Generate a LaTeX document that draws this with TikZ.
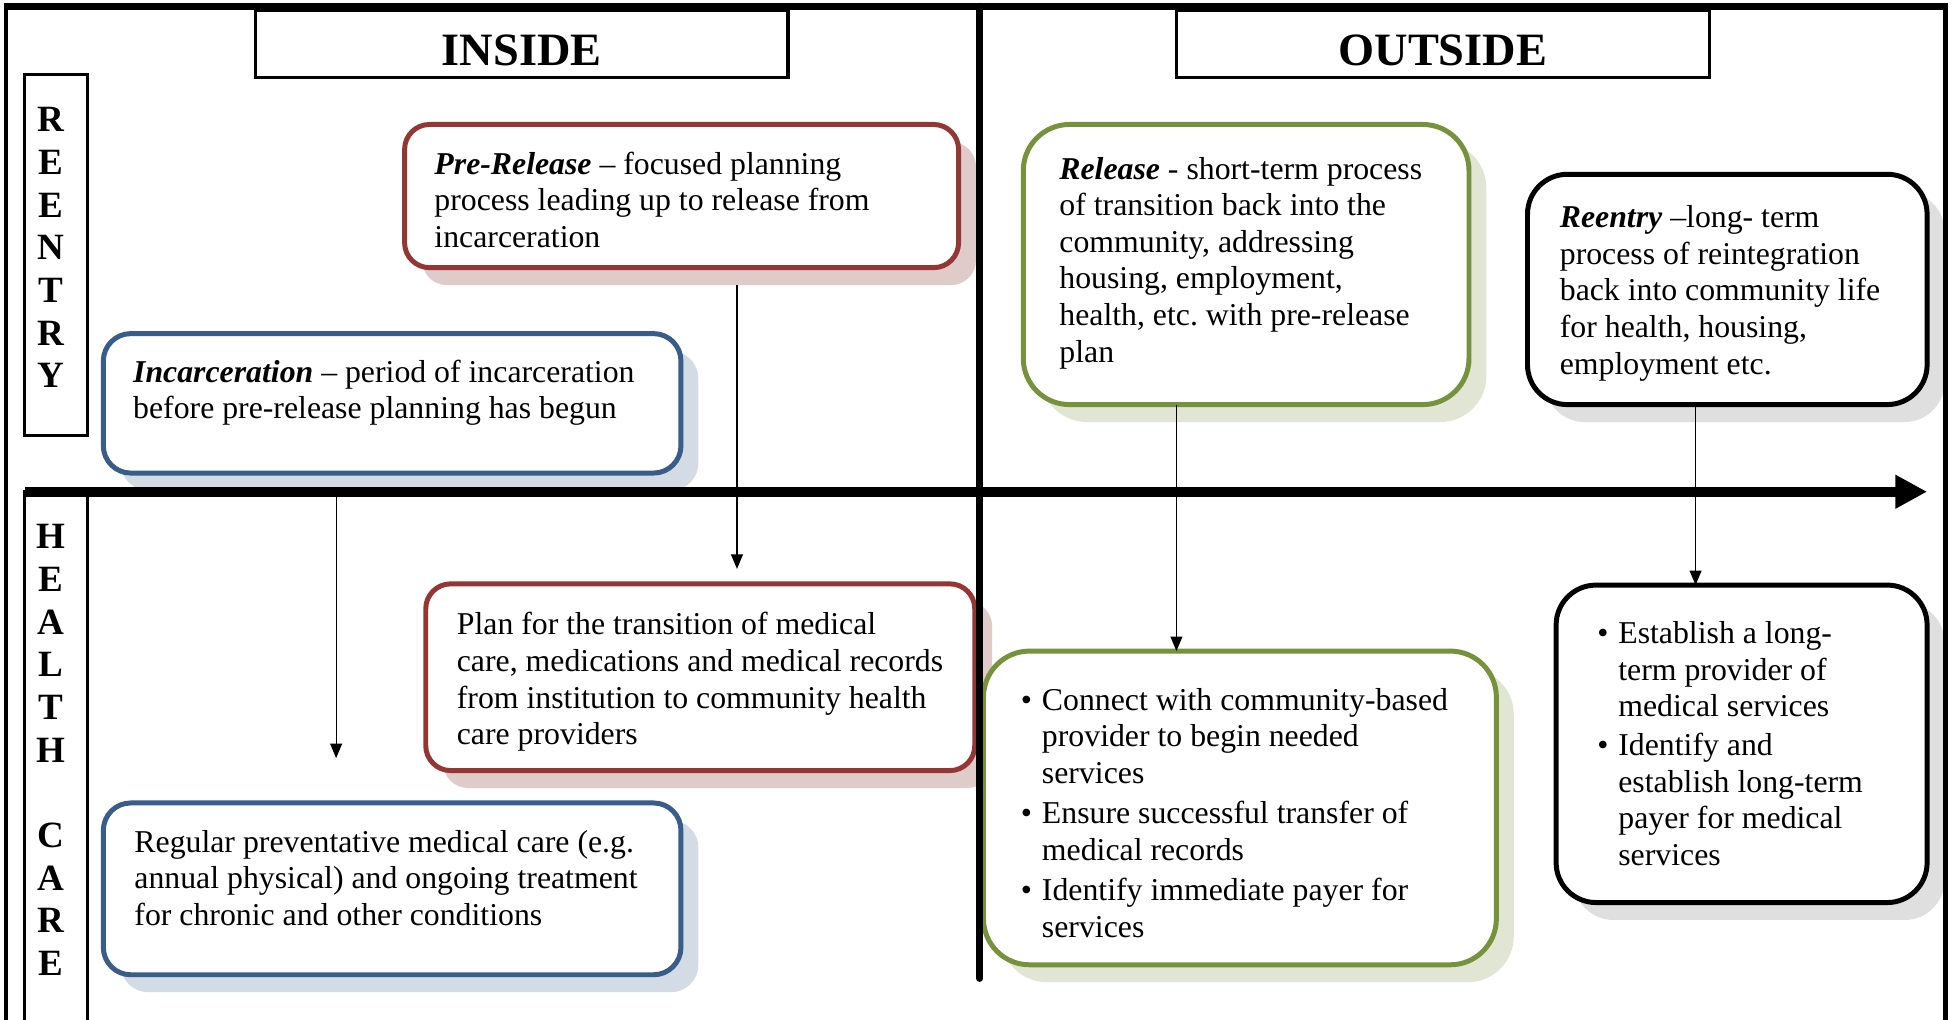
\documentclass[tikz,border=0pt]{standalone}
\usepackage{fontspec}
\setmainfont{Liberation Serif}
\usetikzlibrary{arrows.meta,shadows}
\frenchspacing
\newlength{\U}\setlength{\U}{0.47pt}
\definecolor{bline}{HTML}{385D8A}
\definecolor{rline}{HTML}{943634}
\definecolor{gline}{HTML}{76923C}
\definecolor{bshad}{HTML}{D3DBE4}
\definecolor{rshad}{HTML}{E0CBCB}
\definecolor{gshad}{HTML}{E1E6D4}
\definecolor{kshad}{HTML}{DFDFDF}
% width, height, top space, left indent, text
\newcommand{\bx}[5]{\begin{minipage}[t][#2\U][t]{#1\U}\frenchspacing\vspace*{#3\U}\leftskip=#4\U\relax\rightskip=0pt plus 1fil\relax\parindent=0pt\noindent\strut#5\end{minipage}}
% height, top space, letters
\newcommand{\vl}[3]{\begin{minipage}[t][#1\U][t]{50\U}\vspace*{#2\U}\centering\rightskip=8\U plus 1fil\relax\strut#3\end{minipage}}
\newcommand{\bul}{\llap{\textbullet\hspace{8\U}}}
\tikzset{
  tbox/.style={anchor=north west, inner sep=0pt, outer sep=0pt, fill=white,
    font=\fontsize{12}{13.8}\selectfont, line width=4*\U},
  bbox/.style={tbox, draw=bline, rounded corners=22*\U,
    drop shadow={shadow xshift=14*\U, shadow yshift=-14*\U, fill=bshad, opacity=1}},
  rbox/.style={tbox, draw=rline, rounded corners=20*\U,
    drop shadow={shadow xshift=14*\U, shadow yshift=-14*\U, fill=rshad, opacity=1}},
  gbox/.style={tbox, draw=gline, rounded corners=37*\U,
    drop shadow={shadow xshift=14*\U, shadow yshift=-14*\U, fill=gshad, opacity=1}},
  kbox/.style={tbox, draw=black, rounded corners=32*\U,
    drop shadow={shadow xshift=14*\U, shadow yshift=-14*\U, fill=kshad, opacity=1}},
  hdr/.style={draw, fill=white, line width=2.5*\U, anchor=north west, inner sep=0pt, outer sep=0pt,
    minimum width=428*\U, minimum height=54*\U,
    font=\fontsize{17.5}{20}\selectfont\bfseries, text height=16.5pt, text depth=0pt},
  lbox/.style={draw, line width=2.5*\U, anchor=north west, inner sep=0pt, outer sep=0pt,
    font=\fontsize{14}{16.1}\selectfont\bfseries},
  arr/.style={line width=1*\U, -{Triangle[length=5.5pt,width=4.5pt]}},
  frame/.style={line width=#1*\U}
}
\begin{document}
\begin{tikzpicture}[x=0.47pt, y=-0.47pt]
\useasboundingbox (0,0) rectangle (1568,819);
\clip (0,0) rectangle (1568,819);
\fill[white] (0,0) rectangle (1568,819);

% headers
\node[hdr] (inside) at (205,8) {INSIDE};
\node[hdr] (outside) at (945,8) {OUTSIDE};

% side labels
\node[lbox] (reentry) at (20,60) {\vl{290}{22}{R\\E\\E\\N\\T\\R\\Y}};
\node[lbox] (health) at (20,395) {\vl{440}{22}{H\\E\\A\\L\\T\\H\\[16.1pt]C\\A\\R\\E}};

% boxes
\node[bbox] (inc) at (83,268) {\bx{464}{112}{18.5}{24}{\textbf{\textit{Incarceration}} – period of incarceration\\before pre-release planning has begun}};
\node[rbox] (prerel) at (325,100) {\bx{445}{115}{19.5}{24}{\textbf{\textit{Pre-Release}} – focused planning\\process leading up to release from\\incarceration}};
\node[gbox] (rel) at (822,100) {\bx{358}{225}{23.5}{29}{\textbf{\textit{Release}} - short-term process\\of transition back into the\\community, addressing\\housing, employment,\\health, etc. with pre-release\\plan}};
\node[kbox] (reent) at (1227,140) {\bx{321}{185}{22.5}{26}{\textbf{\textit{Reentry}} –long- term\\process of reintegration\\back into community life\\for health, housing,\\employment etc.}};
\node[rbox] (plan) at (342,469) {\bx{441}{150}{20.5}{25}{Plan for the transition of medical\\care, medications and medical records\\from institution to community health\\care providers}};
\node[bbox] (reg) at (83,645) {\bx{464}{138}{19}{25}{Regular preventative medical care (e.g.\\annual physical) and ongoing treatment\\for chronic and other conditions}};
\node[gbox] (conn) at (790,523) {\bx{412}{252}{27}{47}{\bul Connect with community-based\\provider to begin needed\\services\\[3\U]\bul Ensure successful transfer of\\medical records\\[3\U]\bul Identify immediate payer for\\services}};
\node[kbox] (est) at (1250,470) {\bx{298}{255}{26.5}{50}{\bul Establish a long-\\term provider of\\medical services\\[2\U]\bul Identify and\\establish long-term\\payer for medical\\services}};

% connectors
\coordinate (p1) at (592,229);
\coordinate (p2) at (270,399);
\coordinate (p3) at (945,0);
\coordinate (p4) at (1362,0);
\draw[arr, shorten >=12*\U] (p1) -- (p1 |- plan.north);
\draw[arr, shorten >=36*\U] (p2) -- (p2 |- reg.north);
\draw[arr] (rel.south -| p3) -- (conn.north -| p3);
\draw[arr] (reent.south -| p4) -- (est.north -| p4);

% frame and axes
\coordinate (tl) at (5,5);
\coordinate (tr) at (1563,5);
\coordinate (bl) at (5,830);
\coordinate (br) at (1563,830);
\draw[frame=3] (tl) -- (bl);
\draw[frame=4] (tr) -- (br);
\draw[frame=5.5] ([xshift=-1pt]tl) -- ([xshift=1pt]tr);
\coordinate (dtop) at (787,5);
\coordinate (dbot) at (787,786);
\draw[frame=5.5, line cap=round] (dtop) -- (dbot);
\coordinate (axs) at (20,395);
\coordinate (axe) at (1548,395);
\draw[frame=8, -{Triangle[length=12pt,width=12pt]}] (axs) -- (axe);
\end{tikzpicture}
\end{document}
